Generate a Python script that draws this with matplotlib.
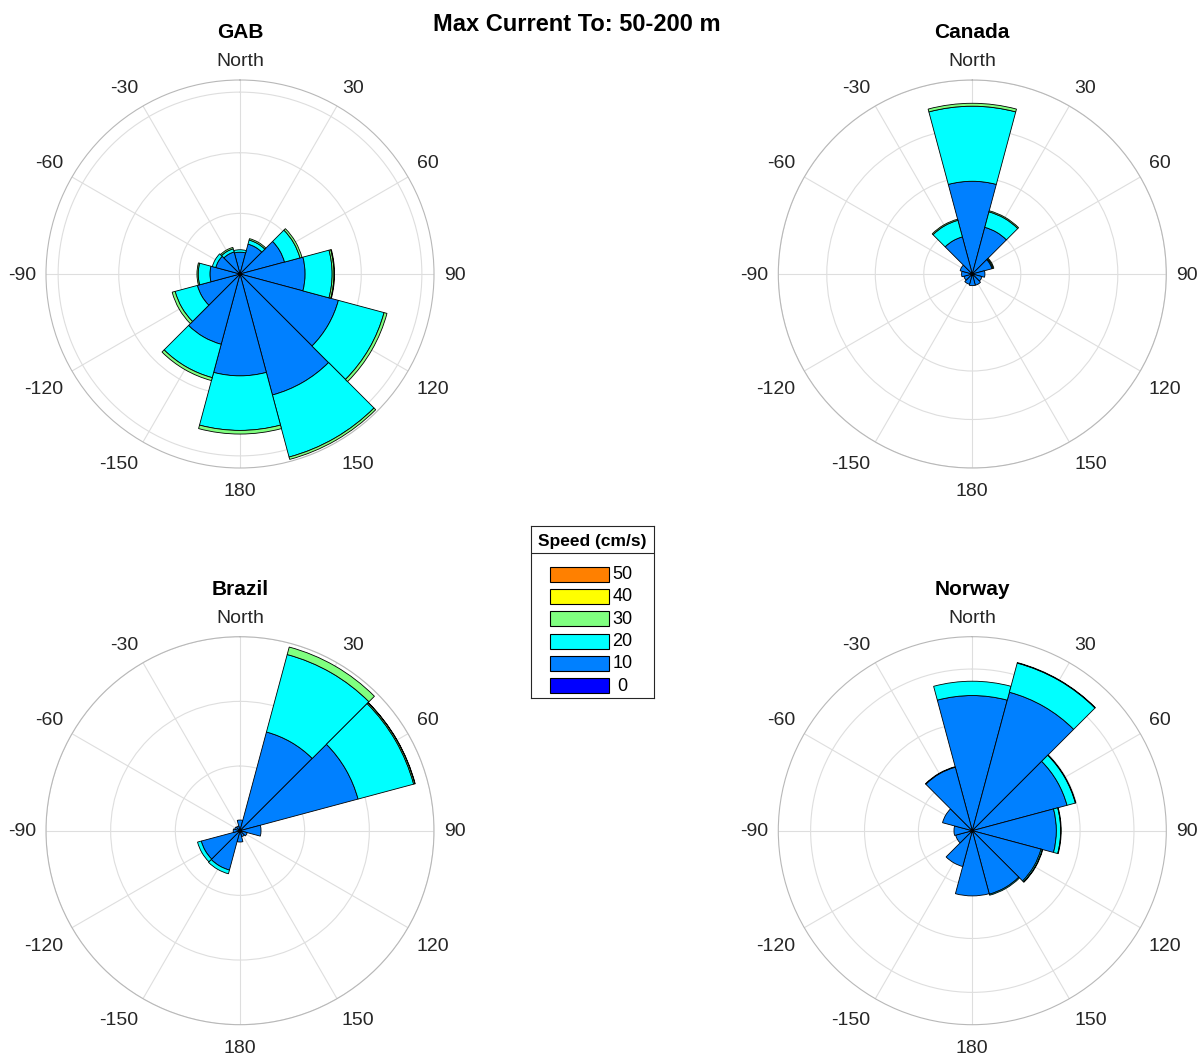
import numpy as np
import matplotlib
matplotlib.use("Agg")
import matplotlib.pyplot as plt
from matplotlib.patches import Rectangle
from matplotlib.transforms import ScaledTranslation

plt.rcParams['font.family'] = ['Liberation Sans', 'DejaVu Sans']

# ---------------- data ----------------
directions = [0, 30, 60, 90, 120, 150, 180, 210, 240, 270, 300, 330]   # sector centres (deg, "to")
dir_labels = ["North", "30", "60", "90", "120", "150", "180", "-150", "-120", "-90", "-60", "-30"]

speed_labels = ["0", "10", "20", "30", "40", "50"]
speed_colors = ["#0000ff", "#0080ff", "#00ffff", "#80ff80", "#ffff00", "#ff8000"]

# frequency (%) per direction sector for each speed class (0,10,20,30,40,50 cm/s)
GAB_0  = [0.1, 0.1, 0.1, 0.1, 0.1, 0.1, 0.1, 0.1, 0.1, 0.1, 0.1, 0.1]
GAB_10 = [1.7, 2.45, 3.7, 5.27, 8.3, 10.23, 8.3, 5.9, 3.54, 2.38, 1.97, 1.78]
GAB_20 = [0.2, 0.35, 1.32, 2.23, 3.9, 5.3, 4.5, 2.85, 1.9, 0.97, 0.29, 0.27]
GAB_30 = [0.0, 0.12, 0.17, 0.15, 0.25, 0.2, 0.3, 0.25, 0.25, 0.1, 0.0, 0.12]
GAB_40 = [0.0, 0.0, 0.0, 0.05, 0.0, 0.0, 0.0, 0.0, 0.0, 0.0, 0.0, 0.0]
GAB_50 = [0.0] * 12

CAN_0  = [0.1] * 12
CAN_10 = [9.46, 4.88, 2.0, 1.2, 0.93, 1.1, 1.1, 1.0, 0.8, 1.0, 1.2, 3.86]
CAN_20 = [7.74, 1.65, 0.1, 0.0, 0.0, 0.0, 0.0, 0.0, 0.0, 0.0, 0.0, 1.77]
CAN_30 = [0.3, 0.12, 0.1, 0.0, 0.0, 0.0, 0.0, 0.0, 0.0, 0.0, 0.0, 0.12]
CAN_40 = [0.0] * 12
CAN_50 = [0.0] * 12

BRA_0  = [0.15] * 12
BRA_10 = [1.5, 15.65, 18.75, 3.1, 1.0, 0.8, 1.6, 6.15, 6.05, 0.9, 0.7, 0.6]
BRA_20 = [0.0, 12.4, 8.9, 0.0, 0.0, 0.0, 0.0, 0.6, 0.6, 0.0, 0.0, 0.0]
BRA_30 = [0.0, 1.2, 0.2, 0.0, 0.0, 0.0, 0.0, 0.0, 0.0, 0.0, 0.0, 0.0]
BRA_40 = [0.0, 0.0, 0.05, 0.0, 0.0, 0.0, 0.0, 0.0, 0.0, 0.0, 0.0, 0.0]
BRA_50 = [0.0] * 12

NOR_0  = [0.1] * 12
NOR_10 = [12.44, 13.2, 9.0, 7.7, 6.5, 6.0, 5.95, 3.34, 1.5, 1.6, 2.76, 6.0]
NOR_20 = [1.33, 2.8, 0.8, 0.4, 0.12, 0.1, 0.0, 0.0, 0.0, 0.0, 0.0, 0.05]
NOR_30 = [0.0, 0.05, 0.05, 0.05, 0.05, 0.0, 0.0, 0.0, 0.0, 0.0, 0.0, 0.0]
NOR_40 = [0.0] * 12
NOR_50 = [0.0] * 12

sites = [
    ("GAB",    [GAB_0, GAB_10, GAB_20, GAB_30, GAB_40, GAB_50], [5, 10, 15], 16.0),
    ("Canada", [CAN_0, CAN_10, CAN_20, CAN_30, CAN_40, CAN_50], [5, 10, 15, 20], 20.0),
    ("Brazil", [BRA_0, BRA_10, BRA_20, BRA_30, BRA_40, BRA_50], [10, 20, 30], 30.0),
    ("Norway", [NOR_0, NOR_10, NOR_20, NOR_30, NOR_40, NOR_50], [5, 10, 15], 18.0),
]

# ---------------- figure ----------------
W, H = 1204, 1057
DPI = 100
fig = plt.figure(figsize=(W / DPI, H / DPI), dpi=DPI)

centres = [(240, 274), (972.3, 274), (240, 830.7), (972.3, 830.7)]
R = 194.0
label_gray = (0.15, 0.15, 0.15)
gap = 10.0        # px between circle and label anchor
top_extra = 5.0   # extra drop for labels hanging below the anchor

theta = np.deg2rad(directions)
width = np.deg2rad(30)

for (name, bins, rticks, rmax), (cx, cy) in zip(sites, centres):
    ax = fig.add_axes([(cx - R) / W, 1 - (cy + R) / H, 2 * R / W, 2 * R / H],
                      projection='polar')
    ax.set_theta_zero_location('N')
    ax.set_theta_direction(-1)
    ax.set_axisbelow(True)
    bottom = np.zeros(len(directions))
    for vals, col in zip(bins, speed_colors):
        vals = np.asarray(vals, dtype=float)
        m = vals > 0
        if m.any():
            ax.bar(theta[m], vals[m], width=width, bottom=bottom[m],
                   color=col, edgecolor='black', linewidth=0.6, align='center')
        bottom = bottom + vals
    ax.set_rlim(0, rmax)
    ax.set_yticks(rticks)
    ax.set_yticklabels([])
    ax.set_thetagrids(directions, [""] * len(directions))
    ax.tick_params(axis='x', length=0)
    ax.grid(True, color=(0.87, 0.87, 0.87), linewidth=0.8)
    ax.spines['polar'].set_color((0.72, 0.72, 0.72))
    ax.spines['polar'].set_linewidth(0.8)
    ax.set_title(name, y=1 + 41.6 / (2 * R), pad=0, fontsize=15, fontweight='bold')
    # MATLAB-style angle labels: anchored just outside the circle, aligned by quadrant
    for a, lab in zip(directions, dir_labels):
        ux, uy = np.sin(np.deg2rad(a)), np.cos(np.deg2rad(a))
        ha = 'center' if a in (0, 180) else ('left' if a < 180 else 'right')
        va = 'center' if a in (90, 270) else ('bottom' if (a < 90 or a > 270) else 'top')
        ox, oy = gap * ux, gap * uy
        if va == 'top':
            oy -= top_extra
        elif va == 'center':
            oy -= 1.0
        tr = ax.transData + ScaledTranslation(ox / DPI, oy / DPI, fig.dpi_scale_trans)
        ax.text(np.deg2rad(a), rmax, lab, ha=ha, va=va, fontsize=14,
                color=label_gray, clip_on=False, transform=tr)

fig.suptitle("Max Current To: 50-200 m", x=577 / W, y=1 - 31 / H, va='baseline',
             fontsize=17, fontweight='bold')

# ---------------- legend ----------------
lx0, lx1, ly0, ly1 = 531, 654, 526, 697.5
lax = fig.add_axes([lx0 / W, 1 - ly1 / H, (lx1 - lx0) / W, (ly1 - ly0) / H])
lax.set_xlim(lx0, lx1)
lax.set_ylim(ly1, ly0)
lax.set_xticks([])
lax.set_yticks([])
for sp in lax.spines.values():
    sp.set_color((0.15, 0.15, 0.15))
    sp.set_linewidth(0.8)
lax.axhline(553.3, color=(0.15, 0.15, 0.15), linewidth=0.8)
lax.text(592.5, 541.5, "Speed (cm/s)", ha='center', va='center', fontsize=12.5,
         fontweight='bold')
row_y = 574.0
for lab, col in zip(speed_labels[::-1], speed_colors[::-1]):
    lax.add_patch(Rectangle((550, row_y - 7.5), 59, 15, facecolor=col,
                            edgecolor='black', linewidth=0.8))
    lax.text(622.5, row_y + 0.5, lab, ha='center', va='center', fontsize=13)
    row_y += 22.35

fig.savefig("out.png", dpi=DPI)
